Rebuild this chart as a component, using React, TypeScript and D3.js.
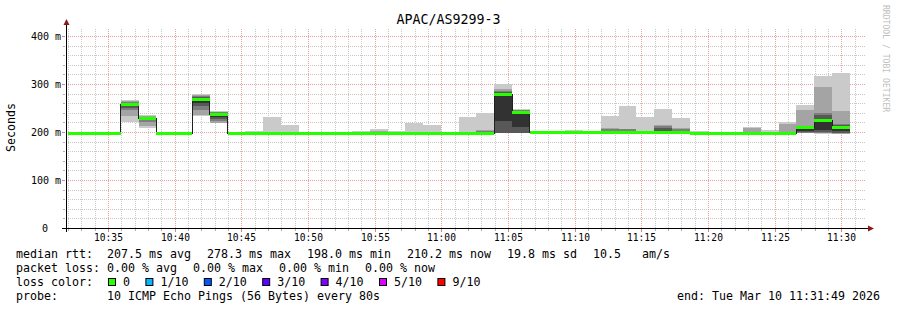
import React from "react";
import * as d3 from "d3";

// ---------------- data ----------------
const TITLE = "APAC/AS9299-3";
const AXIS_LABEL = "Seconds";
const START = "2026-03-10 10:31:49";
const END = "2026-03-10 11:31:49";
const FIRST_BIN = "2026-03-10 10:31:56";
const STEP_SECONDS = 80;
const Y_MAX = 416.667; // ms at top of plot

// median rtt per 80 s bin (ms)
const medianRtt = [
  198.0, 198.0, 198.0, 259.0, 230.0, 198.0, 198.0, 269.0, 238.0, 198.0,
  198.0, 198.0, 198.0, 198.0, 198.0, 198.0, 198.0, 198.0, 198.6, 198.6,
  198.6, 198.6, 198.6, 198.6, 278.3, 242.0, 199.2, 199.2, 199.2, 199.2,
  199.2, 199.2, 201.0, 201.0, 201.0, 198.8, 198.8, 198.8, 198.8, 198.8,
  198.8, 211.0, 226.0, 210.2,
];

// 10 sorted ping rtts per bin (ms)
const pingSamples: number[][] = [
  [197.5, 197.6, 197.8, 197.9, 198.0, 198.0, 198.1, 198.2, 198.4, 198.8],
  [197.5, 197.6, 197.8, 197.9, 198.0, 198.0, 198.1, 198.2, 198.4, 198.8],
  [197.5, 197.6, 197.8, 197.9, 198.0, 198.0, 198.1, 198.2, 198.4, 198.8],
  [221, 234, 246, 252, 256, 259, 262, 264, 266, 268],
  [209, 214, 221, 226, 228, 230, 232, 233, 234, 236],
  [197.5, 197.6, 197.8, 197.9, 198.0, 198.0, 198.1, 198.2, 198.4, 198.8],
  [197.5, 197.6, 197.8, 197.9, 198.0, 198.0, 198.1, 198.2, 198.4, 198.8],
  [235, 237, 246, 255, 262, 269, 273, 277, 279, 281],
  [219, 220, 225, 228, 232, 238, 240, 242, 243, 245],
  [197.5, 197.6, 197.8, 197.9, 198.0, 198.0, 198.1, 198.2, 198.4, 198.8],
  [197.5, 197.6, 197.8, 197.9, 198.0, 198.0, 198.1, 198.2, 198.6, 203],
  [197.5, 197.6, 197.8, 197.9, 198.0, 198.0, 198.1, 198.2, 198.8, 232],
  [197.5, 197.6, 197.8, 197.9, 198.0, 198.0, 198.1, 198.2, 198.8, 215],
  [197.5, 197.6, 197.8, 197.9, 198.0, 198.0, 198.1, 198.2, 198.4, 198.8],
  [197.5, 197.6, 197.8, 197.9, 198.0, 198.0, 198.1, 198.2, 198.4, 198.8],
  [197.5, 197.6, 197.8, 197.9, 198.0, 198.0, 198.1, 198.2, 198.4, 198.8],
  [197.5, 197.6, 197.8, 197.9, 198.0, 198.0, 198.1, 198.4, 202, 203],
  [197.5, 197.6, 197.8, 197.9, 198.0, 198.0, 198.1, 198.6, 204, 208],
  [198.0, 198.2, 198.4, 198.5, 198.6, 198.6, 198.7, 198.9, 199.2, 204],
  [198.0, 198.2, 198.4, 198.5, 198.6, 198.6, 198.7, 198.9, 199.4, 219],
  [198.0, 198.2, 198.4, 198.5, 198.6, 198.6, 198.7, 198.9, 202, 215],
  [198.0, 198.2, 198.4, 198.5, 198.6, 198.6, 198.7, 198.9, 199.2, 199.6],
  [198.0, 198.2, 198.4, 198.5, 198.6, 198.6, 198.7, 198.9, 199.4, 232],
  [198.0, 198.2, 198.4, 198.5, 198.6, 198.6, 198.7, 204, 205, 240],
  [198, 199, 199, 200, 223, 278.3, 285, 287, 291, 301],
  [198, 199, 199, 200, 211, 242, 245, 246, 247, 249],
  [198.6, 198.8, 199.0, 199.1, 199.2, 199.2, 199.3, 199.5, 199.8, 200.2],
  [198.6, 198.8, 199.0, 199.1, 199.2, 199.2, 199.3, 199.5, 199.9, 202],
  [198.6, 198.8, 199.0, 199.1, 199.2, 199.2, 199.3, 199.5, 200.1, 206],
  [198.6, 198.8, 199.0, 199.1, 199.2, 199.2, 199.3, 199.5, 199.8, 200.2],
  [198.6, 198.8, 199.0, 199.1, 199.2, 199.2, 199.3, 208, 209, 235],
  [198.6, 198.8, 199.0, 199.1, 199.2, 199.2, 199.3, 207, 208, 256],
  [200.4, 200.6, 200.8, 200.9, 201.0, 201.0, 201.2, 201.6, 204, 232],
  [200.4, 200.6, 200.8, 200.9, 201.0, 201.0, 209, 213, 215, 248],
  [200.4, 200.6, 200.8, 200.9, 201.0, 201.0, 201.4, 207, 209, 230],
  [198.2, 198.4, 198.6, 198.7, 198.8, 198.8, 198.9, 199.1, 199.6, 204],
  [198.2, 198.4, 198.6, 198.7, 198.8, 198.8, 198.9, 199.1, 199.6, 202],
  [198.2, 198.4, 198.6, 198.7, 198.8, 198.8, 198.9, 199.1, 199.4, 199.8],
  [198.2, 198.4, 198.6, 198.7, 198.8, 198.8, 198.9, 199.1, 210, 211],
  [198.2, 198.4, 198.6, 198.7, 198.8, 198.8, 198.9, 199.1, 199.8, 206],
  [198.2, 198.4, 198.6, 198.7, 198.8, 198.8, 198.9, 199.1, 218, 221],
  [198, 199, 200, 201, 203, 211, 212, 213, 246, 258],
  [197, 199, 200, 202, 205, 226, 236, 240, 294, 317],
  [196, 197, 199, 200, 203, 210.2, 215, 218, 244, 324],
];

const yTickValues = [0, 100, 200, 300, 400];
const yTickLabels = ["0", "100 m", "200 m", "300 m", "400 m"];
const smokeShades = ["#cacaca", "#a4a4a4", "#7e7e7e", "#585858", "#323232"];

const lossLabels = ["0", "1/10", "2/10", "3/10", "4/10", "5/10", "9/10"];
const lossColors = ["#26ff00", "#00b8ff", "#0059ff", "#5e00ff", "#7e00ff", "#dd00ff", "#ff0000"];

const rttLabel = "median rtt:";
const rttItems = ["207.5 ms avg", "278.3 ms max", "198.0 ms min", "210.2 ms now", "19.8 ms sd", "10.5   am/s"];
const lossLabel = "packet loss:";
const lossItems = ["0.00 % avg", "0.00 % max", "0.00 % min", "0.00 % now"];
const colorLabel = "loss color:";
const probeLabel = "probe:";
const probeText = "10 ICMP Echo Pings (56 Bytes) every 80s";
const endText = "end: Tue Mar 10 11:31:49 2026";
const watermark = "RRDTOOL / TOBI OETIKER";

// ---------------- layout ----------------
const W = 897;
const H = 310;
const PLOT_L = 66;
const PLOT_R = 866;
const PLOT_B = 228.5;
const PLOT_T = 28.5;
const MONO = "'DejaVu Sans Mono', monospace";
const LEG_FS = 11.63;
const CW = 7; // legend char advance
const VAL_X = 107;

const nb = (s: string) => s.replace(/ /g, "\u00a0");

export default function App() {
  const parse = d3.timeParse("%Y-%m-%d %H:%M:%S");
  const t0 = parse(START)!;
  const t1 = parse(END)!;
  const tb = parse(FIRST_BIN)!;

  const x = d3.scaleTime().domain([t0, t1]).range([PLOT_L, PLOT_R]);
  const y = d3.scaleLinear().domain([0, Y_MAX]).range([PLOT_B, PLOT_T]);

  const binTime = (i: number) => d3.timeSecond.offset(tb, i * STEP_SECONDS);
  const n = medianRtt.length;

  const minorY = d3.range(20, 401, 20).filter((v) => v % 100 !== 0);
  const minutes = d3.timeMinute.range(t0, t1);
  const minorX = minutes.filter((d) => d.getMinutes() % 5 !== 0);
  const majorX = minutes.filter((d) => d.getMinutes() % 5 === 0);
  const fmt = d3.timeFormat("%H:%M");
  const px = (v: number) => Math.floor(v) + 0.5;

  const linePts: [Date, number][] = medianRtt.map((m, i) => [binTime(i), m]);
  linePts.push([binTime(n), medianRtt[n - 1]]);
  const medLine = d3
    .line<[Date, number]>()
    .x((d) => x(d[0]))
    .y((d) => Math.round(y(d[1]) - 0.5) + 0.5)
    .curve(d3.curveStepAfter)(linePts);

  // legend item positions
  const rttX: number[] = [];
  rttItems.reduce((acc, s) => { rttX.push(acc); return acc + (s.length + 2) * CW + 2; }, VAL_X);
  const lossX: number[] = [];
  lossItems.reduce((acc, s) => { lossX.push(acc); return acc + (s.length + 2) * CW + 2; }, VAL_X);
  const boxX: number[] = [];
  lossLabels.reduce((acc, s) => { boxX.push(acc); return acc + 15 + s.length * CW + 15.4; }, 108);

  const rows = [257.5, 271.5, 285.5, 299.5];

  return (
    <svg width={W} height={H} style={{ display: "block", position: "absolute", left: 0, top: 0 }}
      xmlns="http://www.w3.org/2000/svg">
      <rect x={0} y={0} width={W} height={H} fill="#ffffff" />

      {/* minor grid */}
      <g stroke="#c8c8c8" strokeWidth={1} strokeDasharray="1 1" shapeRendering="crispEdges">
        {minorY.map((v) => (
          <line key={"my" + v} x1={PLOT_L} x2={PLOT_R} y1={px(y(v))} y2={px(y(v))} />
        ))}
        {minorX.map((d) => (
          <line key={"mx" + d.getTime()} x1={px(x(d))} x2={px(x(d))} y1={PLOT_T} y2={PLOT_B} />
        ))}
      </g>
      {/* major grid */}
      <g stroke="#e8a0a0" strokeWidth={1} strokeDasharray="1 1" shapeRendering="crispEdges">
        {yTickValues.filter((v) => v > 0).map((v) => (
          <line key={"My" + v} x1={PLOT_L} x2={PLOT_R} y1={px(y(v))} y2={px(y(v))} />
        ))}
        {majorX.map((d) => (
          <line key={"Mx" + d.getTime()} x1={px(x(d))} x2={px(x(d))} y1={PLOT_T} y2={PLOT_B} />
        ))}
      </g>

      {/* smoke */}
      <g shapeRendering="crispEdges">
        {smokeShades.map((shade, k) => (
          <g key={"s" + k} fill={shade}>
            {pingSamples.map((p, i) => {
              const lo = p[k];
              const hi = p[p.length - 1 - k];
              const x0 = Math.round(x(binTime(i)));
              const x1 = Math.round(x(binTime(i + 1)));
              const y0 = Math.round(y(hi));
              const y1 = Math.round(y(lo));
              if (y1 - y0 < 1) return null;
              return <rect key={i} x={x0} y={y0} width={x1 - x0} height={y1 - y0} />;
            })}
          </g>
        ))}
      </g>

      {/* median line */}
      <path d={medLine || ""} fill="none" stroke="#202020" strokeWidth={1} shapeRendering="crispEdges" />

      {/* loss-coloured median bars */}
      <g fill={lossColors[0]} shapeRendering="crispEdges">
        {medianRtt.map((m, i) => {
          const x0 = Math.round(x(binTime(i)));
          const x1 = Math.round(x(binTime(i + 1)));
          return <rect key={i} x={x0} y={Math.round(y(m) - 1.5)} width={x1 - x0} height={3} />;
        })}
      </g>

      {/* axes */}
      <g stroke="#000" strokeWidth={1} shapeRendering="crispEdges">
        <line x1={62} x2={869} y1={PLOT_B} y2={PLOT_B} />
        <line x1={PLOT_L + 0.5} x2={PLOT_L + 0.5} y1={232} y2={24} />
      </g>
      {/* axis ticks */}
      <g stroke="#b0b0b0" strokeWidth={1} shapeRendering="crispEdges">
        {minorX.map((d) => (
          <line key={"tx" + d.getTime()} x1={px(x(d))} x2={px(x(d))} y1={229} y2={231} />
        ))}
        {minorY.map((v) => (
          <line key={"ty" + v} x1={63} x2={65} y1={px(y(v))} y2={px(y(v))} />
        ))}
      </g>
      <g stroke="#e08080" strokeWidth={1} shapeRendering="crispEdges">
        {majorX.map((d) => (
          <line key={"Tx" + d.getTime()} x1={px(x(d))} x2={px(x(d))} y1={229} y2={232} />
        ))}
        {yTickValues.filter((v) => v > 0).map((v) => (
          <line key={"Ty" + v} x1={62} x2={65} y1={px(y(v))} y2={px(y(v))} />
        ))}
      </g>
      <path d="M63.5,25 L66.5,19 L69.5,25 Z" fill="#8b1a1a" />
      <path d="M868,225.5 L874,228.5 L868,231.5 Z" fill="#8b1a1a" />

      {/* y tick labels */}
      <g fontFamily={MONO} fontSize={10} fill="#000">
        {yTickValues.map((v, i) => (
          <text key={"yl" + v} x={v === 0 ? 48 : 61} y={y(v) + 3.5} textAnchor="end">
            {nb(yTickLabels[i])}
          </text>
        ))}
      </g>
      {/* x tick labels */}
      <g fontFamily={MONO} fontSize={9.6} fill="#000" textAnchor="middle">
        {majorX.map((d) => (
          <text key={"xl" + d.getTime()} x={px(x(d))} y={241}>
            {fmt(d)}
          </text>
        ))}
      </g>

      {/* title & axis label */}
      <text x={448.5} y={24} textAnchor="middle" fontFamily={MONO} fontSize={13.3} fill="#000">
        {TITLE}
      </text>
      <text transform="translate(15,127.5) rotate(-90)" textAnchor="middle" fontFamily={MONO} fontSize={11.6} fill="#000">
        {AXIS_LABEL}
      </text>
      <text transform="translate(883,5) rotate(90)" fontFamily={MONO} fontSize={8.1} fill="#c0c0c0">
        {nb(watermark)}
      </text>

      {/* legend */}
      <g fontFamily={MONO} fontSize={LEG_FS} fill="#000">
        <text x={16} y={rows[0]}>{nb(rttLabel)}</text>
        {rttItems.map((s, i) => (
          <text key={"r" + i} x={rttX[i]} y={rows[0]}>{nb(s)}</text>
        ))}
        <text x={16} y={rows[1]}>{nb(lossLabel)}</text>
        {lossItems.map((s, i) => (
          <text key={"l" + i} x={lossX[i]} y={rows[1]}>{nb(s)}</text>
        ))}
        <text x={16} y={rows[2]}>{nb(colorLabel)}</text>
        {lossLabels.map((s, i) => (
          <g key={"c" + i}>
            <rect x={boxX[i] + 0.5} y={278.5} width={7} height={7} fill={lossColors[i]} stroke="#000" strokeWidth={1} />
            <text x={boxX[i] + 15} y={rows[2]}>{s}</text>
          </g>
        ))}
        <text x={16} y={rows[3]}>{nb(probeLabel)}</text>
        <text x={VAL_X} y={rows[3]}>{nb(probeText)}</text>
        <text x={880} y={rows[3]} textAnchor="end">{nb(endText)}</text>
      </g>
    </svg>
  );
}
